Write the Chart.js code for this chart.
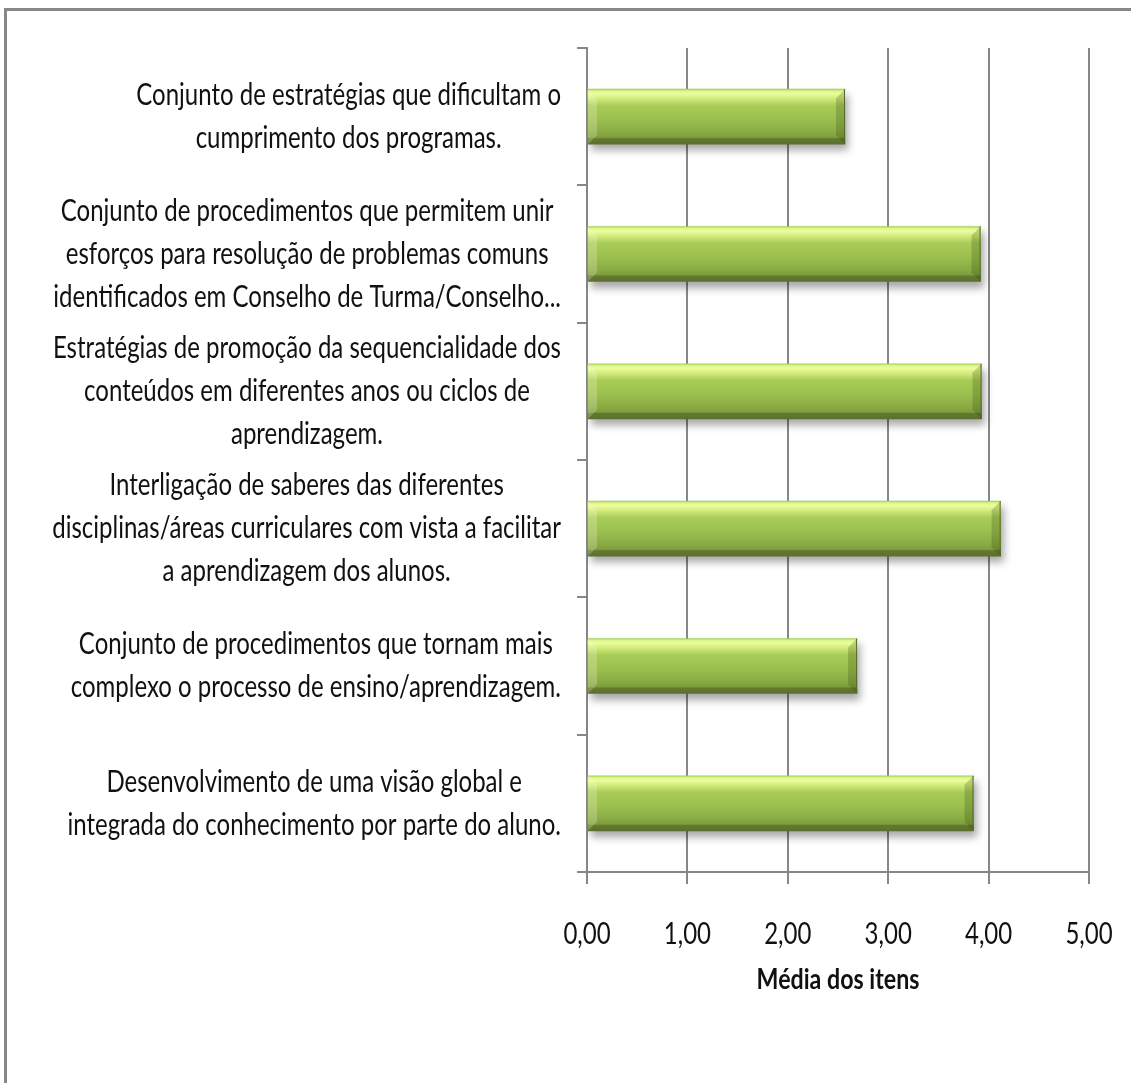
<!DOCTYPE html>
<html lang="pt">
<head>
    <meta charset="UTF-8">
    <title>Média dos itens</title>
    <script src="https://cdn.jsdelivr.net/npm/chart.js"></script>
    <style>
        html, body { margin: 0; padding: 0; background: #fff; overflow: hidden; }
        /* moldura cinzenta do gráfico (só topo e esquerda ficam visíveis) */
        #moldura {
            position: absolute; left: 4px; top: 8px; width: 1300px; height: 1300px;
            border-top: 3px solid #878787; border-left: 3px solid #878787;
        }
        #grafico { position: absolute; left: 0; top: 0; }
    </style>
</head>
<body>
    <div id="moldura"></div>
    <canvas id="grafico" width="1131" height="1083"></canvas>

    <script>
        // itens do questionário (cada linha do rótulo é um elemento)
        const itens = [
            ['Conjunto de estratégias que dificultam o', 'cumprimento dos programas.'],
            ['Conjunto de procedimentos que permitem unir', 'esforços para resolução de problemas comuns', 'identificados em Conselho de Turma/Conselho...'],
            ['Estratégias de promoção da sequencialidade dos', 'conteúdos em diferentes anos ou ciclos de', 'aprendizagem.'],
            ['Interligação de saberes das diferentes', 'disciplinas/áreas curriculares com vista a facilitar', 'a aprendizagem dos alunos.'],
            ['Conjunto de procedimentos que tornam mais', 'complexo o processo de ensino/aprendizagem.'],
            ['Desenvolvimento de uma visão global e', 'integrada do conhecimento por parte do aluno.']
        ];
        const medias = [2.57, 3.92, 3.93, 4.12, 2.69, 3.85];
        const escala = [0, 1, 2, 3, 4, 5];
        const tituloEixo = 'Média dos itens';

        const CINZA = '#878787';
        const APERTO = 0.8;        // compressão horizontal do texto
        const ENTRELINHA = 43;
        const MARGEM_DIR = 561;    // fim dos rótulos das categorias
        const ESPESSURA = 55;

        // gradiente vertical de cada barra
        function corBarra(c) {
            const y = c.chart.scales.y;
            if (!y || c.type !== 'data') return '#9bbb59';
            const cy = y.getPixelForValue(c.dataIndex);
            if (!isFinite(cy)) return '#9bbb59';
            const g = c.chart.ctx.createLinearGradient(0, cy - ESPESSURA / 2, 0, cy + ESPESSURA / 2);
            g.addColorStop(0, '#a5cf55');
            g.addColorStop(0.03, '#d9f58a');
            g.addColorStop(0.08, '#edfd9d');
            g.addColorStop(0.18, '#cfe97a');
            g.addColorStop(0.3, '#a9cc57');
            g.addColorStop(0.55, '#9cc04f');
            g.addColorStop(0.78, '#8aab44');
            g.addColorStop(0.88, '#7d9c3d');
            g.addColorStop(0.9, '#63792f');
            g.addColorStop(1, '#5b702c');
            return g;
        }

        // sombra difusa por baixo das barras
        const sombra = {
            id: 'sombra',
            beforeDatasetsDraw(chart) {
                const c = chart.ctx;
                c.save();
                c.shadowColor = 'rgba(0,0,0,0.35)';
                c.shadowBlur = 8;
                c.shadowOffsetX = 3;
                c.shadowOffsetY = 6;
            },
            afterDatasetsDraw(chart) {
                chart.ctx.restore();
            }
        };

        // chanfro nas pontas das barras
        const chanfro = {
            id: 'chanfro',
            afterDatasetsDraw(chart) {
                const c = chart.ctx;
                const b = 9;
                chart.getDatasetMeta(0).data.forEach(el => {
                    const top = el.y - el.height / 2, bot = el.y + el.height / 2;
                    const esq = el.base, dir = el.x;
                    c.save();
                    c.fillStyle = 'rgba(255,255,230,0.22)';
                    c.beginPath();
                    c.moveTo(esq, top); c.lineTo(esq + b, top + b);
                    c.lineTo(esq + b, bot - b); c.lineTo(esq, bot);
                    c.closePath(); c.fill();
                    c.fillStyle = 'rgba(40,60,10,0.22)';
                    c.beginPath();
                    c.moveTo(dir, top); c.lineTo(dir - b, top + b);
                    c.lineTo(dir - b, bot - b); c.lineTo(dir, bot);
                    c.closePath(); c.fill();
                    c.strokeStyle = '#566c2b';
                    c.lineWidth = 1;
                    c.beginPath();
                    c.moveTo(dir - 0.5, top); c.lineTo(dir - 0.5, bot);
                    c.stroke();
                    c.restore();
                });
            }
        };

        function escreve(c, txt, cx, cy) {
            c.save();
            c.translate(cx, cy);
            c.scale(APERTO, 1);
            c.textAlign = 'center';
            c.fillText(txt, 0, 0);
            c.restore();
        }

        // rótulos das categorias, dos valores e título do eixo
        const textos = {
            id: 'textos',
            afterDraw(chart) {
                const c = chart.ctx, sy = chart.scales.y, sx = chart.scales.x;
                c.save();
                c.fillStyle = '#111';
                c.textBaseline = 'middle';
                c.font = '30px Lato';
                itens.forEach((linhas, i) => {
                    const cy = sy.getPixelForTick(i);
                    const larg = Math.max(...linhas.map(l => c.measureText(l).width)) * APERTO;
                    const cx = MARGEM_DIR - larg / 2;
                    linhas.forEach((l, k) => {
                        escreve(c, l, cx, cy + (k - (linhas.length - 1) / 2) * ENTRELINHA);
                    });
                });
                escala.forEach(v => {
                    escreve(c, v.toFixed(2).replace('.', ','), sx.getPixelForValue(v), sx.top + 62);
                });
                c.font = 'bold 29px Lato';
                escreve(c, tituloEixo, (sx.left + sx.right) / 2, sx.top + 108);
                c.restore();
            }
        };

        const ctx = document.getElementById('grafico').getContext('2d');
        new Chart(ctx, {
            type: 'bar',
            data: {
                labels: itens,
                datasets: [{
                    data: medias,
                    backgroundColor: corBarra,
                    borderWidth: 0,
                    barThickness: ESPESSURA
                }]
            },
            options: {
                indexAxis: 'y',
                responsive: false,
                animation: false,
                layout: { padding: { top: 48, right: 42, left: 0, bottom: 0 } },
                plugins: {
                    legend: { display: false },
                    tooltip: { enabled: false }
                },
                scales: {
                    x: {
                        min: 0,
                        max: 5,
                        ticks: { stepSize: 1, display: false },
                        grid: { color: CINZA, lineWidth: 2, tickLength: 12 },
                        border: { color: CINZA, width: 2 },
                        afterFit: s => { s.height = 211; }
                    },
                    y: {
                        ticks: { display: false },
                        grid: { drawOnChartArea: false, offset: true, color: CINZA, lineWidth: 2, tickLength: 10 },
                        border: { color: CINZA, width: 2 },
                        afterFit: s => { s.width = 587; }
                    }
                }
            },
            plugins: [sombra, chanfro, textos]
        });
    </script>
</body>
</html>
